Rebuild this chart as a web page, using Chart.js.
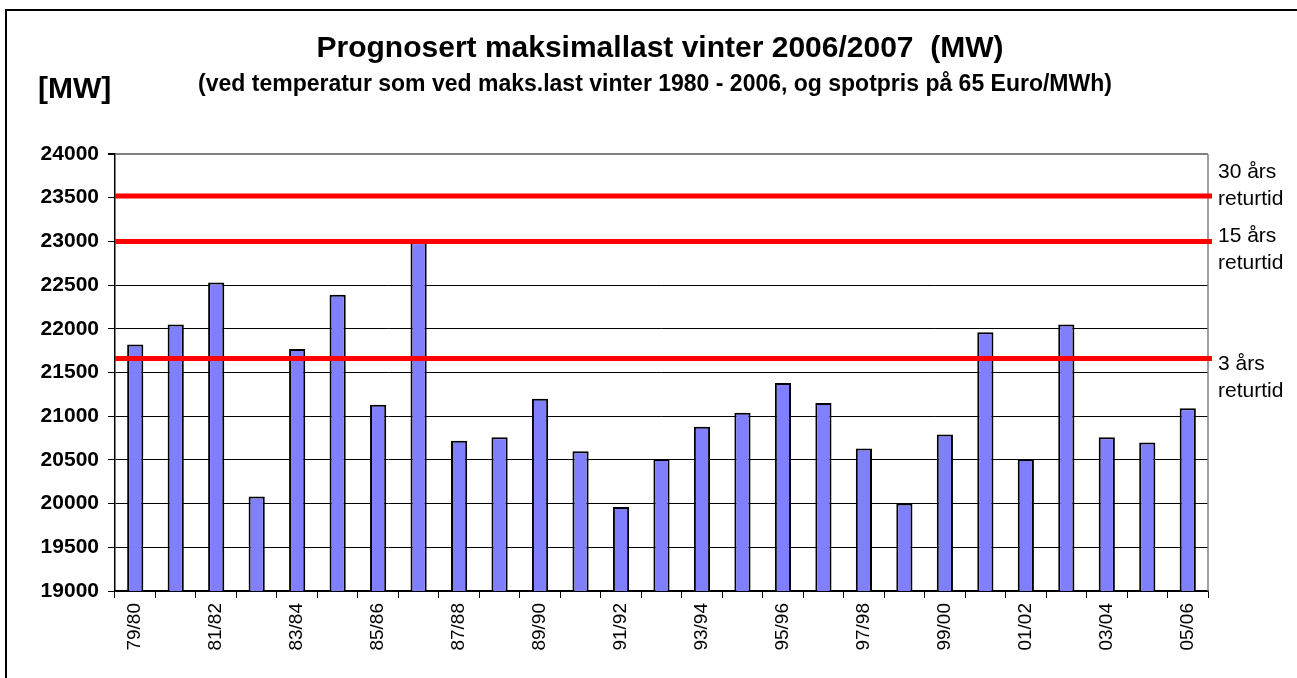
<!DOCTYPE html>
<html>
<head>
<meta charset="utf-8">
<script src="https://cdn.jsdelivr.net/npm/chart.js@4.4.1/dist/chart.umd.min.js"></script>
<style>
    html, body { margin: 0; padding: 0; background: #fff; }
    #wrap { width: 1297px; height: 678px; }
</style>
</head>
<body>
<div id="wrap"><canvas id="loadChart" width="1297" height="678"></canvas></div>
<script>
// Seasons (winter), one bar each
const seasons = ['79/80', '80/81', '81/82', '82/83', '83/84', '84/85', '85/86', '86/87', '87/88',
    '88/89', '89/90', '90/91', '91/92', '92/93', '93/94', '94/95', '95/96', '96/97', '97/98',
    '98/99', '99/00', '00/01', '01/02', '02/03', '03/04', '04/05', '05/06'];

// Forecast max load 2006/2007 (MW) with temperature of each past winter
const maxLoad = [21820, 22050, 22530, 20080, 21770, 22390, 21130, 22990, 20720,
    20760, 21200, 20600, 19960, 20510, 20880, 21040, 21380, 21150, 20630,
    20000, 20790, 21960, 20510, 22050, 20760, 20700, 21090];

// Return period levels (red lines)
const returnLevels = [23520, 23000, 21660];
const returnLabels = [['30 års', 'returtid'], ['15 års', 'returtid'], ['3 års', 'returtid']];

// y axis
const yMin = 19000;
const yMax = 24000;
const yStep = 500;

const titleText = 'Prognosert maksimallast vinter 2006/2007  (MW)';
const subtitleText = '(ved temperatur som ved maks.last vinter 1980 - 2006, og spotpris på 65 Euro/MWh)';
const unitText = '[MW]';

const FONT = '"Liberation Sans", Arial, sans-serif';
// vertical offsets of the return labels relative to their line
const labelOffsets = [-18, 1, 11];

const decorPlugin = {
    id: 'decor',
    beforeDraw(chart) {
        const c = chart.ctx;
        c.save();
        c.fillStyle = '#fff';
        c.fillRect(0, 0, chart.width, chart.height);
        // outer frame
        c.strokeStyle = '#000';
        c.lineWidth = 2;
        c.beginPath();
        c.moveTo(6, chart.height + 5);
        c.lineTo(6, 10);
        c.lineTo(chart.width + 5, 10);
        c.stroke();
        c.restore();
    },
    afterDatasetsDraw(chart) {
        const c = chart.ctx;
        const area = chart.chartArea;
        const y = chart.scales.y;
        c.save();
        // grey plot border on the right
        c.strokeStyle = '#808080';
        c.lineWidth = 1.5;
        c.beginPath();
        c.moveTo(area.right, area.top);
        c.lineTo(area.right, area.bottom);
        c.stroke();

        // red return period lines + labels
        c.strokeStyle = '#ff0000';
        c.lineWidth = 5;
        c.font = '21px ' + FONT;
        c.fillStyle = '#000';
        c.textAlign = 'left';
        c.textBaseline = 'alphabetic';
        returnLevels.forEach((val, i) => {
            const py = y.getPixelForValue(val);
            c.beginPath();
            c.moveTo(area.left, py);
            c.lineTo(area.right + 4, py);
            c.stroke();
            const lines = returnLabels[i];
            lines.forEach((txt, j) => {
                c.fillText(txt, area.right + 10, py + labelOffsets[i] + j * 27);
            });
        });

        // titles
        c.textAlign = 'center';
        c.font = 'bold 30px ' + FONT;
        c.fillText(titleText, 660, 57);
        c.font = 'bold 23px ' + FONT;
        c.fillText(subtitleText, 655, 91);
        c.textAlign = 'left';
        c.font = 'bold 30px ' + FONT;
        c.fillText(unitText, 38, 98);
        c.restore();
    }
};

const ctx = document.getElementById('loadChart');
new Chart(ctx, {
    type: 'bar',
    data: {
        labels: seasons,
        datasets: [{
            data: maxLoad,
            backgroundColor: '#8080ff',
            borderColor: '#000',
            borderWidth: 2,
            barPercentage: 0.4,
            categoryPercentage: 1.0
        }]
    },
    options: {
        responsive: false,
        animation: false,
        layout: { padding: { top: 154, right: 89, bottom: 0, left: 0 } },
        plugins: {
            legend: { display: false },
            tooltip: { enabled: false }
        },
        scales: {
            y: {
                min: yMin,
                max: yMax,
                afterFit: scale => { scale.width = 115; },
                border: { color: '#000', width: 1.5 },
                grid: {
                    color: c => (c.tick && c.tick.value === yMax ? '#808080' : '#000'),
                    lineWidth: c => (c.tick && c.tick.value === yMax ? 2 : 1),
                    tickColor: '#000',
                    tickLength: 7
                },
                ticks: {
                    stepSize: yStep,
                    padding: 9,
                    color: '#000',
                    font: { family: FONT, size: 21, weight: 'bold' },
                    callback: val => String(val)
                }
            },
            x: {
                afterFit: scale => { scale.height = 87; },
                border: { color: '#000', width: 1.5 },
                grid: {
                    offset: true,
                    drawOnChartArea: false,
                    color: '#000',
                    tickLength: 7
                },
                ticks: {
                    autoSkip: false,
                    maxRotation: 90,
                    minRotation: 90,
                    padding: 5,
                    color: '#000',
                    font: { family: FONT, size: 19 },
                    callback: (val, i) => (i % 2 === 0 ? seasons[i] : '')
                }
            }
        }
    },
    plugins: [decorPlugin]
});
</script>
</body>
</html>
